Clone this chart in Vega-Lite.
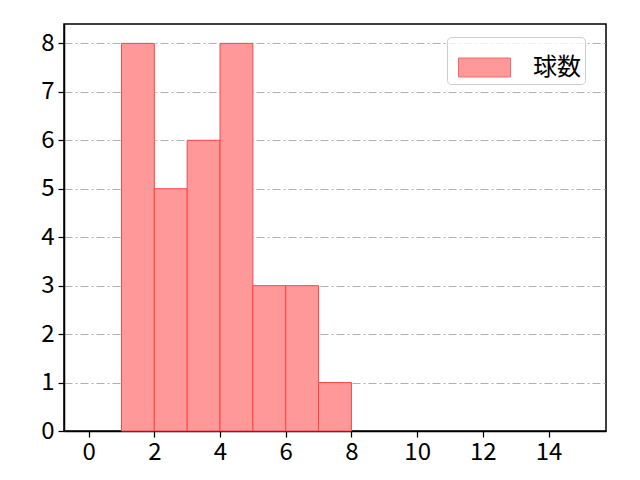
{
  "$schema": "https://vega.github.io/schema/vega-lite/v6.json",
  "width": 542,
  "height": 407,
  "autosize": {"type": "none"},
  "padding": {"left": 64, "top": 24, "right": 34, "bottom": 49},
  "background": "white",
  "config": {
    "view": {"stroke": "#000000", "strokeWidth": 1.5},
    "font": "Noto Sans CJK JP"
  },
  "data": {
    "values": [
      {"start": 1, "end": 2, "count": 8, "series": "球数"},
      {"start": 2, "end": 3, "count": 5, "series": "球数"},
      {"start": 3, "end": 4, "count": 6, "series": "球数"},
      {"start": 4, "end": 5, "count": 8, "series": "球数"},
      {"start": 5, "end": 6, "count": 3, "series": "球数"},
      {"start": 6, "end": 7, "count": 3, "series": "球数"},
      {"start": 7, "end": 8, "count": 1, "series": "球数"}
    ]
  },
  "mark": {"type": "rect", "stroke": "#ff4444", "strokeWidth": 1},
  "encoding": {
    "x": {
      "field": "start",
      "type": "quantitative",
      "scale": {"domain": [-0.75, 15.75], "nice": false, "zero": false},
      "axis": {
        "title": null,
        "values": [0, 2, 4, 6, 8, 10, 12, 14],
        "grid": false,
        "domain": true,
        "domainColor": "black",
        "domainWidth": 1.5,
        "tickColor": "black",
        "tickSize": 6,
        "tickWidth": 1.25,
        "labelColor": "black",
        "labelFontSize": 24,
        "labelPadding": 3,
        "labelFont": "Noto Sans CJK JP"
      }
    },
    "x2": {"field": "end"},
    "y": {
      "field": "count",
      "type": "quantitative",
      "scale": {"domain": [0, 8.4], "nice": false},
      "axis": {
        "title": null,
        "values": [0, 1, 2, 3, 4, 5, 6, 7, 8],
        "grid": true,
        "gridColor": "#b0b0b0",
        "gridDash": [8, 3, 2, 3],
        "gridWidth": 1,
        "domain": true,
        "domainColor": "black",
        "domainWidth": 1.5,
        "tickColor": "black",
        "tickSize": 6,
        "tickWidth": 1.25,
        "labelColor": "black",
        "labelFontSize": 24,
        "labelPadding": 4,
        "labelFont": "Noto Sans CJK JP"
      }
    },
    "y2": {"datum": 0},
    "color": {
      "field": "series",
      "type": "nominal",
      "scale": {"range": ["#ff9999"]},
      "legend": {
        "title": null,
        "orient": "none",
        "legendX": 383,
        "legendY": 13,
        "padding": 4,
        "symbolOffset": 7,
        "strokeColor": "#cccccc",
        "fillColor": "rgba(255,255,255,0.8)",
        "cornerRadius": 4,
        "symbolType": "M-1,-0.365H1V0.365H-1Z",
        "symbolSize": 2704,
        "symbolStrokeColor": "#ff6666",
        "symbolStrokeWidth": 1,
        "symbolFillColor": "#ff9999",
        "labelFontSize": 24,
        "labelColor": "black",
        "labelFont": "Noto Sans CJK JP",
        "labelOffset": 22
      }
    }
  }
}
